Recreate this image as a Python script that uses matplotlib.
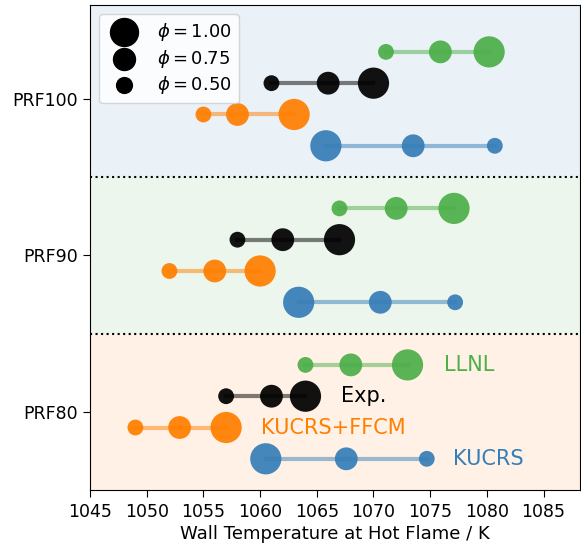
import numpy as np
import matplotlib
matplotlib.use("Agg")
import matplotlib.pyplot as plt

groups = ["PRF80", "PRF90", "PRF100"]
models = ["KUCRS", "KUCRS+FFCM", "Exp.", "LLNL"]
colors = ["#377eb8", "#ff7f00", "black", "#4daf4a"]
phis = [0.50, 0.75, 1.00]

# wall temperature [K], rows: group, cols: phi 0.50, 0.75, 1.00
kucrs = [[1074.7, 1067.6, 1060.5],
         [1077.2, 1070.6, 1063.4],
         [1080.7, 1073.5, 1065.8]]
kucrs_ffcm = [[1049.0, 1052.9, 1057.0],
              [1052.0, 1056.0, 1060.0],
              [1055.0, 1058.0, 1063.0]]
exp = [[1057.0, 1061.0, 1064.0],
       [1058.0, 1062.0, 1067.0],
       [1061.0, 1066.0, 1070.0]]
llnl = [[1064.0, 1068.0, 1073.0],
        [1067.0, 1072.0, 1077.1],
        [1071.1, 1075.9, 1080.2]]
data = [kucrs, kucrs_ffcm, exp, llnl]

sizes = [130, 270, 505]
legend_sizes = [130, 250, 405]
bg_colors = ["#ff7f00", "#4daf4a", "#377eb8"]

fig = plt.figure(figsize=(5.81, 5.47), dpi=100)
ax = fig.add_axes([0.155, 0.104, 0.843, 0.887])

offsets = [-1.5, -0.5, 0.5, 1.5]
for g in range(3):
    yc = 5 * g
    top = yc + 2.5 if g < 2 else yc + 3
    ax.axhspan(yc - 2.5, top, color=bg_colors[g], alpha=0.1, lw=0, zorder=0)
    for m in range(4):
        y = yc + offsets[m]
        xs = data[m][g]
        ax.scatter(xs, [y] * 3, s=sizes, color=colors[m], alpha=0.93,
                   edgecolors="none", zorder=2)
        ax.plot([min(xs), max(xs)], [y, y], color=colors[m], alpha=0.5,
                lw=3, zorder=3)

for yl in [2.5, 7.5]:
    ax.axhline(yl, color="black", ls=":", lw=1.5, zorder=1)

# model labels next to the PRF80 group
label_x = [1077.0, 1060.1, 1067.1, 1076.2]
for m in range(4):
    ax.text(label_x[m], offsets[m], models[m], color=colors[m],
            fontsize=15, va="center", ha="left")

handles = []
for i in [2, 1, 0]:
    h = ax.scatter([], [], s=legend_sizes[i], color="black",
                   label=r"$\phi = %.2f$" % phis[i])
    handles.append(h)
ax.legend(handles=handles, loc="upper left", fontsize=13,
          labelspacing=0.25, borderpad=0.4, handletextpad=0.8)

ax.set_xlim(1045, 1088.2)
ax.set_ylim(-2.5, 13)
ax.set_yticks([0, 5, 10])
ax.set_yticklabels(groups)
ax.set_xticks(np.arange(1045, 1086, 5))
ax.tick_params(labelsize=12.5, length=5, pad=4)
ax.set_xlabel("Wall Temperature at Hot Flame / K", fontsize=13, labelpad=3)

fig.savefig("out.png", dpi=100)
